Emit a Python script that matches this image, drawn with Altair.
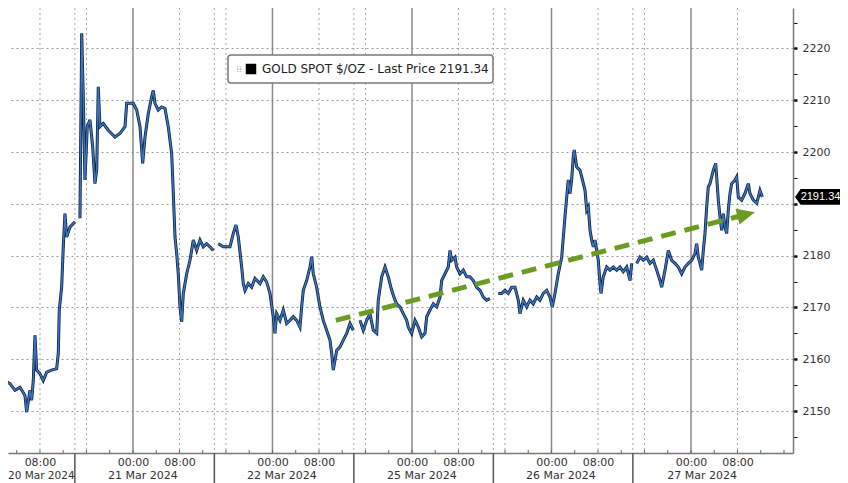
import altair as alt
import numpy as np
import pandas as pd

# ---- data (x in trading hours from 20 Mar 00:00, weekend removed) ----
hours = [
    1.12, 2.84, 3.70, 4.56, 5.42, 5.71, 6.28, 6.57, 6.85, 7.14, 7.43, 8.00, 8.57, 9.15, 10.01, 10.87,
    11.15, 11.32, 11.73, 12.01, 12.30, 12.59, 13.16, 13.73, 14.02,
    14.88, 15.18, 15.45, 15.74, 16.14, 16.60, 17.07, 17.46, 17.76, 18.03, 18.32, 18.89, 19.75, 20.90,
    21.76, 22.63, 22.92, 24.05, 24.64, 25.21, 25.67, 26.07, 26.63, 27.22, 27.49, 27.79, 28.35, 28.94,
    29.51, 30.07, 30.66, 30.94, 31.23, 31.52, 31.79, 32.09, 32.38, 32.66, 33.24, 33.81, 34.38, 34.96,
    35.53, 36.10, 36.68, 37.25, 37.82,
    38.68, 39.54, 40.69, 41.26, 41.72, 42.12, 42.70, 42.98, 43.27, 43.84, 44.42, 44.99, 45.85, 46.42,
    47.00, 47.57, 48.14, 48.43, 48.72, 49.29, 49.86, 50.44, 51.01, 51.58, 52.16, 52.73, 53.02, 53.30,
    53.88, 54.45, 54.75, 55.02, 55.60, 56.17, 56.74, 57.32, 57.89, 58.19, 58.46, 59.05, 59.62, 60.18,
    60.77, 61.34, 61.90,
    63.06, 63.62, 64.21, 64.78, 65.34, 65.93, 66.20, 66.79, 67.36, 67.92, 68.51, 69.08, 69.37, 69.94,
    70.50, 71.09, 71.37, 71.95, 72.52, 73.09, 73.67, 74.24, 74.53, 75.10, 75.67, 76.25, 76.82, 77.11,
    77.68, 78.25, 78.54, 78.83, 79.40, 79.69, 80.26, 80.83, 81.41, 81.98, 82.55, 83.13, 83.70, 84.27,
    84.85, 85.42,
    86.85, 87.43, 88.00, 88.57, 89.15, 89.72, 90.29, 90.58, 91.15, 91.74, 92.30, 92.87, 93.46, 94.02,
    94.59, 95.18, 95.74, 96.14, 96.60, 97.17, 97.76, 98.32, 98.62, 98.89, 99.18, 99.47, 99.75, 99.92,
    100.33, 100.90, 101.20, 101.77, 102.06, 102.33, 102.63, 102.92, 103.20, 103.49, 103.78, 104.05,
    104.35, 104.52, 104.91, 105.50, 106.07, 106.63, 107.22, 107.79, 108.35, 108.94, 109.51, 109.80,
    110.66, 111.23, 111.80, 112.38, 112.95, 113.52, 114.10, 114.67, 114.96, 115.53, 116.10, 116.68,
    117.25, 117.82, 118.40, 118.97, 119.54, 120.12, 120.69, 120.98, 121.26, 121.55, 121.84, 122.12,
    122.41, 122.70, 122.98, 123.27, 123.56, 123.84, 124.25, 124.42, 124.70, 124.99, 125.28, 125.56,
    125.85, 126.14, 126.42, 126.71, 127.00, 127.57, 127.86, 128.14, 128.72, 129.29, 129.86, 130.15,
    130.72, 131.30, 131.58, 131.87, 132.27,
]
prices = [
    2156.3, 2155.3, 2154.0, 2154.6, 2153.0, 2149.8, 2154.0, 2152.1, 2155.9, 2164.6, 2157.9, 2157.2,
    2155.9, 2157.5, 2157.9, 2158.2, 2161.1, 2169.5, 2173.9, 2181.7, 2188.1, 2183.6, 2185.5, 2186.2, 2186.5,
    2187.2, 2222.9, 2210.7, 2194.6, 2204.9, 2206.2, 2201.0, 2193.9, 2196.5, 2212.6, 2204.9, 2205.5,
    2204.2, 2202.9, 2203.6, 2204.9, 2209.4, 2209.4, 2208.1, 2204.9, 2197.8, 2202.9, 2207.4, 2210.7,
    2211.9, 2209.4, 2208.1, 2208.7, 2208.4, 2204.9, 2199.7, 2192.0, 2183.6, 2180.4, 2176.5, 2170.1,
    2167.2, 2172.7, 2176.5, 2179.1, 2183.0, 2181.0, 2183.0, 2181.7, 2182.3, 2181.7, 2181.0,
    2182.3, 2181.7, 2181.7, 2184.3, 2185.9, 2183.6, 2177.8, 2174.6, 2173.3, 2174.6, 2173.9, 2175.6,
    2174.6, 2175.9, 2174.9, 2172.7, 2168.2, 2165.0, 2168.8, 2167.5, 2169.5, 2166.9, 2167.5, 2168.2,
    2167.5, 2166.2, 2170.1, 2173.3, 2175.2, 2177.8, 2179.8, 2176.5, 2173.9, 2170.1, 2167.5, 2165.6,
    2163.7, 2161.1, 2157.9, 2161.7, 2162.4, 2163.7, 2165.0, 2166.9, 2165.6,
    2167.5, 2165.6, 2167.5, 2168.8, 2165.6, 2165.0, 2171.4, 2175.9, 2177.8, 2175.9, 2173.3, 2171.4,
    2170.7, 2170.1, 2168.8, 2167.5, 2166.2, 2165.0, 2167.5, 2166.2, 2164.3, 2165.0, 2168.2, 2169.5,
    2170.7, 2170.1, 2172.0, 2175.2, 2176.5, 2177.8, 2181.0, 2179.1, 2179.7, 2177.8, 2176.5, 2177.2,
    2175.9, 2175.9, 2175.2, 2173.9, 2173.3, 2172.0, 2171.4, 2171.7,
    2172.7, 2172.7, 2173.3, 2172.7, 2173.9, 2173.9, 2171.4, 2168.8, 2171.4, 2170.1, 2171.4, 2170.7,
    2172.0, 2171.4, 2172.7, 2173.3, 2172.0, 2170.1, 2172.7, 2176.5, 2179.7, 2187.5, 2191.3, 2194.6,
    2192.0, 2194.6, 2199.1, 2200.4, 2197.1, 2196.5, 2195.2, 2192.6, 2188.8, 2189.4, 2184.9, 2183.0,
    2181.7, 2183.0, 2181.0, 2179.1, 2174.6, 2172.7, 2175.9, 2177.8, 2177.2, 2177.8, 2177.2, 2177.8,
    2176.9, 2177.8, 2175.2, 2178.5,
    2178.5, 2179.7, 2179.1, 2179.7, 2178.5, 2179.1, 2177.2, 2175.2, 2173.9, 2177.2, 2181.0, 2179.1,
    2178.5, 2177.8, 2176.5, 2177.8, 2178.5, 2179.1, 2180.4, 2182.3, 2179.7, 2178.5, 2177.2, 2181.0,
    2184.3, 2189.4, 2193.3, 2193.9, 2195.2, 2196.5, 2197.8, 2195.2, 2190.7, 2187.5, 2184.9, 2188.1,
    2185.5, 2184.3, 2188.8, 2192.0, 2193.9, 2194.6, 2195.2, 2191.3, 2190.7, 2192.0, 2193.9, 2192.0,
    2190.7, 2190.1, 2191.3, 2192.6, 2191.34,
]
session_breaks = [14.5, 38.3, 62.5, 86.2, 110.3]

last_price = 2191.34
legend_label = ["GOLD SPOT $/OZ - Last Price 2191.34"]

y_label_values = [2150, 2160, 2170, 2180, 2200, 2210, 2220]   # 2190 sits under the price box
y_tick_values = [2145, 2150, 2155, 2160, 2165, 2170, 2175, 2180, 2185, 2190, 2195, 2200,
                 2205, 2210, 2215, 2220, 2225]
x_label_hours = [8, 24, 32, 48, 56, 72, 80, 96, 104, 120, 128]
midnight_hours = [24, 48, 72, 96, 120]
dotted_hours = [8, 14, 16, 32, 38, 40, 56, 62, 64, 80, 86, 88, 104, 110, 112, 128]
day_separator_hours = [14, 38, 62, 86, 110]
minor_tick_hours = list(range(4, 137, 4))
first_date_label = ["20 Mar 2024"]          # pinned to the left edge like the reference
date_labels = ["21 Mar 2024", "22 Mar 2024", "25 Mar 2024", "26 Mar 2024", "27 Mar 2024"]
date_label_hours = [25.7, 49.6, 73.7, 97.6, 121.9]

arrow_hours = [58.9, 128.4]
arrow_prices = [2167.5, 2187.65]
arrow_head_hour = [129.5]
arrow_head_price = [2187.95]

# ---- chart ----
W, H = 785, 445
FONT = "DejaVu Sans"
GREEN = "#6a9c22"

xs = alt.Scale(domain=[2.5, 137.55], nice=False, zero=False)
ys = alt.Scale(domain=[2141.9, 2227.8], nice=False, zero=False)

is10 = "datum.value % 10 === 0"
label_test = " || ".join(f"datum.value == {v}" for v in y_label_values)
x_axis = alt.Axis(
    values=x_label_hours,
    labelExpr="datum.value % 24 == 0 ? '00:00' : '08:00'",
    grid=False, ticks=False, domainColor="#777777", domainWidth=1.5,
    labelFont=FONT, labelFontSize=11, labelColor="#333333", labelPadding=3,
    labelFlush=False, labelOverlap=False, title=None,
)
y_axis = alt.Axis(
    orient="right", values=y_tick_values, format="d",
    labelExpr=f"({label_test}) ? datum.label : ''",
    grid=True, gridColor="#9a9a9a", gridDash=[2, 3], gridWidth=1,
    gridOpacity={"condition": {"test": is10, "value": 1}, "value": 0},
    tickColor="#111111", tickSize=4,
    tickWidth={"condition": {"test": is10, "value": 2.5}, "value": 1},
    domainColor="#777777", domainWidth=1.5,
    labelFont=FONT, labelFontSize=11, labelColor="#333333", labelPadding=5,
    labelOverlap=False, labelFlush=False, title=None,
)
X = alt.X("h:Q", scale=xs, axis=x_axis)
Y = alt.Y("p:Q", scale=ys, axis=y_axis)

df = pd.DataFrame({"h": hours, "p": prices})
df["session"] = np.searchsorted(session_breaks, df["h"])

grid_dotted = alt.Chart(pd.DataFrame({"h": dotted_hours})).mark_rule(
    color="#a8a8a8", strokeWidth=1, strokeDash=[2, 3]).encode(x=X)
grid_solid = alt.Chart(pd.DataFrame({"h": midnight_hours})).mark_rule(
    color="#8a8a8a", strokeWidth=1.5).encode(x=X)

line_dark = alt.Chart(df).mark_line(color="#0e1f3a", strokeWidth=3.0, clip=True).encode(
    x=X, y=Y, detail="session:N")
line_blue = alt.Chart(df).mark_line(color="#3b74c0", strokeWidth=1.5, clip=True).encode(
    x=X, y=Y, detail="session:N")

arrow = alt.Chart(pd.DataFrame({"h": arrow_hours, "p": arrow_prices})).mark_line(
    color=GREEN, strokeWidth=5, strokeDash=[15, 9]).encode(x=X, y=Y)
arrow_head = alt.Chart(pd.DataFrame({"h": arrow_head_hour, "p": arrow_head_price})).mark_point(
    shape="M1,0L-1,-0.9L-1,0.9Z", filled=True, size=324, angle=345.5, color=GREEN, opacity=1
).encode(x=X, y=Y)

separators = alt.Chart(pd.DataFrame({"h": day_separator_hours})).mark_rule(
    color="#555555", strokeWidth=1.5).encode(x=X, y=alt.value(H), y2=alt.value(H + 32))
minor_ticks = alt.Chart(pd.DataFrame({"h": minor_tick_hours})).mark_rule(
    color="#666666", strokeWidth=1).encode(x=X, y=alt.value(H - 3), y2=alt.value(H))
dates = alt.Chart(pd.DataFrame({"h": date_label_hours, "t": date_labels})).mark_text(
    font=FONT, fontSize=11, color="#333333", baseline="middle", align="center"
).encode(x=X, y=alt.value(H + 23), text="t:N")
first_date = alt.Chart(pd.DataFrame({"t": first_date_label})).mark_text(
    font=FONT, fontSize=10.5, color="#333333", baseline="middle", align="left"
).encode(x=alt.value(0), y=alt.value(H + 23), text="t:N")

leg_df = pd.DataFrame({"t": legend_label})
leg_box = alt.Chart(leg_df).mark_rect(
    fill="white", stroke="#7a7a7a", strokeWidth=1.5, cornerRadius=3
).encode(x=alt.value(220), x2=alt.value(485), y=alt.value(47), y2=alt.value(75))
leg_icon = alt.Chart(leg_df).mark_text(
    font=FONT, fontSize=9, color="#b0b0b0", align="center", baseline="middle"
).encode(x=alt.value(231), y=alt.value(61), text=alt.value("⁞⁞"))
leg_square = alt.Chart(leg_df).mark_square(size=110, color="black", opacity=1).encode(
    x=alt.value(243), y=alt.value(61))
leg_text = alt.Chart(leg_df).mark_text(
    font=FONT, fontSize=12, color="#222222", align="left", baseline="middle"
).encode(x=alt.value(254), y=alt.value(61), text="t:N")

lp_df = pd.DataFrame({"p": [last_price], "t": [f"{last_price:.2f}"]})
lp_box = alt.Chart(lp_df).mark_point(
    shape="M-1,0L-0.75,-0.35L1,-0.35L1,0.35L-0.75,0.35Z", filled=True, size=2025,
    color="black", opacity=1
).encode(x=alt.value(W + 24.5), y=Y)
lp_text = alt.Chart(lp_df).mark_text(
    font="Liberation Sans", fontSize=11, color="white", align="center", baseline="middle"
).encode(x=alt.value(W + 27.5), y=Y, text="t:N")

chart = alt.layer(
    grid_dotted, grid_solid, line_dark, line_blue, arrow, arrow_head,
    separators, minor_ticks, dates, first_date,
    leg_box, leg_icon, leg_square, leg_text, lp_box, lp_text,
).properties(
    width=W, height=H,
    padding={"left": 0, "top": 0, "right": 47, "bottom": 30},
    autosize=alt.AutoSizeParams(type="none"),
    background="white",
).configure_view(stroke=None)

chart.save("out.html", embed_options={"renderer": "svg", "actions": False})
